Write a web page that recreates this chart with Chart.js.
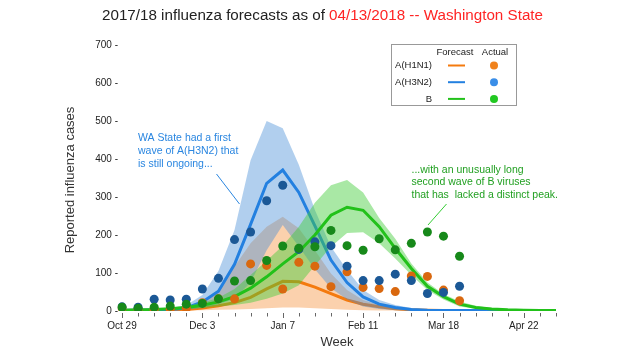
<!DOCTYPE html>
<html><head><meta charset="utf-8">
<script src="https://cdn.jsdelivr.net/npm/chart.js@4.4.1/dist/chart.umd.min.js"></script>
<style>html,body{margin:0;padding:0;background:#fff}</style>
</head><body>
<canvas id="c" width="620" height="350" style="width:620px;height:350px;display:block"></canvas>
<script>
// ---- data ----
const weeks = ['Oct 29','Nov 5','Nov 12','Nov 19','Nov 26','Dec 3','Dec 10','Dec 17','Dec 24','Dec 31',
  'Jan 7','Jan 14','Jan 21','Jan 28','Feb 4','Feb 11','Feb 18','Feb 25','Mar 4','Mar 11',
  'Mar 18','Mar 25','Apr 1','Apr 8','Apr 15','Apr 22','Apr 29','May 6'];
const labeledWeeks = ['Oct 29','Dec 3','Jan 7','Feb 11','Mar 18','Apr 22'];
const yTicks = [0,100,200,300,400,500,600,700];

// reported cases (actual)
const actualH1N1 = [8,5,4,4,7,22,32,32,124,120,58,128,118,64,103,62,59,51,92,91,55,27];
const actualH3N2 = [11,10,31,29,31,58,86,188,208,290,331,162,182,172,118,80,80,97,80,46,49,65];
const actualB    = [10,7,10,13,18,20,32,79,80,133,171,165,169,212,172,160,190,161,178,208,197,144];

// forecasts: median and 95% band
const fcH1N1     = [1,1,2,2,4,8,14,22,36,58,78,77,63,46,29,18,11,6,3,2,1,1,1,1,1,1,1,1];
const fcH1N1Low  = [0,0,0,0,1,2,3,4,5,7,9,9,7,5,3,2,1,1,0,0,0,0,0,0,0,0,0,0];
const fcH1N1High = [2,2,3,4,7,22,55,117,178,222,248,218,160,99,55,29,16,8,4,2,1,1,1,1,1,1,1,1];

const fcH3N2     = [2,2,3,4,8,24,52,123,228,336,371,312,224,134,75,37,18,9,4,2,1,1,1,1,1,1,1,1];
const fcH3N2Low  = [0,0,1,1,3,8,18,32,75,160,226,170,110,60,30,12,5,2,1,0,0,0,0,0,0,0,0,0];
const fcH3N2High = [3,4,6,8,15,42,105,213,397,500,481,385,266,169,108,55,29,16,8,4,2,2,2,2,2,2,2,2];

const fcB     = [2,3,4,6,9,15,24,38,60,90,124,156,200,252,273,265,222,165,112,65,38,18,9,5,3,2,1,1];
const fcBLow  = [1,1,2,3,5,8,12,16,22,32,46,68,120,169,205,207,178,138,95,55,30,12,6,3,1,1,0,0];
const fcBHigh = [3,4,6,9,14,22,35,58,95,132,172,222,285,331,345,312,245,190,125,75,45,25,14,8,4,3,2,2];

// ---- styles ----
const FONT = '"Liberation Sans", Arial, Helvetica, sans-serif';
const C = {
  orangeLine:'#f47a0e', orangeBand:'rgba(245,145,60,0.42)', orangePt:'#d9680f', orangeLeg:'#f0821c',
  blueLine:'#2380e0',  blueBand:'rgba(70,140,215,0.42)',  bluePt:'#1b5896',  blueLeg:'#3a8ee8',
  greenLine:'#22c11a', greenBand:'rgba(65,205,55,0.45)',  greenPt:'#17891a', greenLeg:'#22c822'
};

function band(data, color, order, fill) {
  return { data, borderWidth:0, pointRadius:0, fill: fill ? '-1' : false,
    backgroundColor: color, borderColor:'rgba(0,0,0,0)', tension:0, order };
}
function line(data, color, order) {
  return { data, borderColor: color, borderWidth:3, pointRadius:0, fill:false, tension:0, order };
}
function pts(data, color, order) {
  return { data, showLine:false, pointRadius:4.5, pointHoverRadius:4.5, pointBorderWidth:0,
    pointBackgroundColor: color, borderColor: color, backgroundColor: color, order };
}

const overlay = {
  id:'overlay',
  afterDraw(chart) {
    const ctx = chart.ctx, xs = chart.scales.x, ys = chart.scales.y;
    ctx.save();
    // x tick marks
    ctx.strokeStyle = '#666'; ctx.lineWidth = 1;
    weeks.forEach((w,i)=>{
      const px = Math.round(xs.getPixelForValue(i)) + 0.5;
      const big = labeledWeeks.includes(w);
      ctx.beginPath(); ctx.moveTo(px, ys.bottom + 2); ctx.lineTo(px, ys.bottom + (big ? 7 : 5.5)); ctx.stroke();
    });
    // title
    const t1 = '2017/18 influenza forecasts as of ', t2 = '04/13/2018 -- Washington State';
    ctx.font = '100px ' + FONT;
    const w100 = ctx.measureText(t1 + t2).width;
    const fs = 100 * 441 / w100;
    ctx.font = fs.toFixed(2) + 'px ' + FONT;
    ctx.textBaseline = 'middle'; ctx.textAlign = 'left';
    ctx.fillStyle = '#222'; ctx.fillText(t1, 102, 16);
    const w1 = ctx.measureText(t1).width;
    ctx.fillStyle = '#ff2424'; ctx.fillText(t2, 102 + w1, 16);
    // axis titles
    ctx.fillStyle = '#333'; ctx.font = '13px ' + FONT; ctx.textAlign = 'center';
    ctx.fillText('Week', 337, 342);
    ctx.save(); ctx.translate(70, 180); ctx.rotate(-Math.PI/2);
    ctx.fillText('Reported influenza cases', 0, 0); ctx.restore();
    // annotations
    ctx.font = '10.5px ' + FONT; ctx.textAlign = 'left';
    ctx.fillStyle = '#2a86e0';
    ['WA State had a first','wave of A(H3N2) that','is still ongoing...'].forEach((s,i)=>ctx.fillText(s, 138, 138.5 + i*12.8));
    ctx.strokeStyle = '#2a86e0'; ctx.lineWidth = 1;
    ctx.beginPath(); ctx.moveTo(216.5, 174); ctx.lineTo(239.5, 204); ctx.stroke();
    ctx.fillStyle = '#22a022';
    ['...with an unusually long','second wave of B viruses','that has  lacked a distinct peak.'].forEach((s,i)=>ctx.fillText(s, 411.5, 170 + i*12.5));
    ctx.strokeStyle = '#33cc33';
    ctx.beginPath(); ctx.moveTo(446.5, 204); ctx.lineTo(428, 225); ctx.stroke();
    // legend
    ctx.fillStyle = '#fff'; ctx.fillRect(391, 44, 125, 61);
    ctx.strokeStyle = '#999'; ctx.lineWidth = 1; ctx.strokeRect(391.5, 44.5, 125, 61);
    ctx.font = '9.5px ' + FONT; ctx.fillStyle = '#222';
    ctx.textAlign = 'center';
    ctx.fillText('Forecast', 455, 52); ctx.fillText('Actual', 495, 52);
    const rows = [['A(H1N1)', C.orangeLine, C.orangeLeg], ['A(H3N2)', C.blueLine, C.blueLeg], ['B', C.greenLine, C.greenLeg]];
    rows.forEach((r,i)=>{
      const y = 65.5 + i*16.7;
      ctx.textAlign = 'right'; ctx.fillStyle = '#222'; ctx.fillText(r[0], 432, y);
      ctx.strokeStyle = r[1]; ctx.lineWidth = 2;
      ctx.beginPath(); ctx.moveTo(448, y); ctx.lineTo(465, y); ctx.stroke();
      ctx.fillStyle = r[2]; ctx.beginPath(); ctx.arc(494, y, 4, 0, Math.PI*2); ctx.fill();
    });
    ctx.restore();
  }
};

new Chart(document.getElementById('c'), {
  type:'line',
  data:{
    labels: weeks,
    datasets:[
      band(fcH1N1Low, C.orangeBand, 30, false),
      band(fcH1N1High, C.orangeBand, 29, true),
      line(fcH1N1, C.orangeLine, 28),
      band(fcH3N2Low, C.blueBand, 27, false),
      band(fcH3N2High, C.blueBand, 26, true),
      line(fcH3N2, C.blueLine, 25),
      band(fcBLow, C.greenBand, 24, false),
      band(fcBHigh, C.greenBand, 23, true),
      line(fcB, C.greenLine, 22),
      pts(actualH1N1, C.orangePt, 3),
      pts(actualH3N2, C.bluePt, 2),
      pts(actualB, C.greenPt, 1)
    ]
  },
  options:{
    responsive:false, animation:false, devicePixelRatio:1,
    layout:{ padding:{ left:0, right:64, top:45, bottom:0 } },
    plugins:{ legend:{display:false}, tooltip:{enabled:false}, title:{display:false} },
    scales:{
      x:{
        grid:{display:false, drawTicks:false}, border:{display:false},
        ticks:{ autoSkip:false, maxRotation:0, minRotation:0, padding:9, color:'#222',
          font:{size:10, family:FONT},
          callback:(v,i)=> labeledWeeks.includes(weeks[i]) ? weeks[i] : '' },
        afterFit:(s)=>{ s.height = 39; }
      },
      y:{
        min:0, max:700,
        grid:{display:false, drawTicks:false}, border:{display:false},
        afterBuildTicks:(s)=>{ s.ticks = yTicks.map(v=>({value:v})); },
        ticks:{ padding:4, color:'#222', font:{size:10, family:FONT}, callback:(v)=> v + ' -' },
        afterFit:(s)=>{ s.width = 122; }
      }
    }
  },
  plugins:[overlay]
});
</script>
</body></html>
